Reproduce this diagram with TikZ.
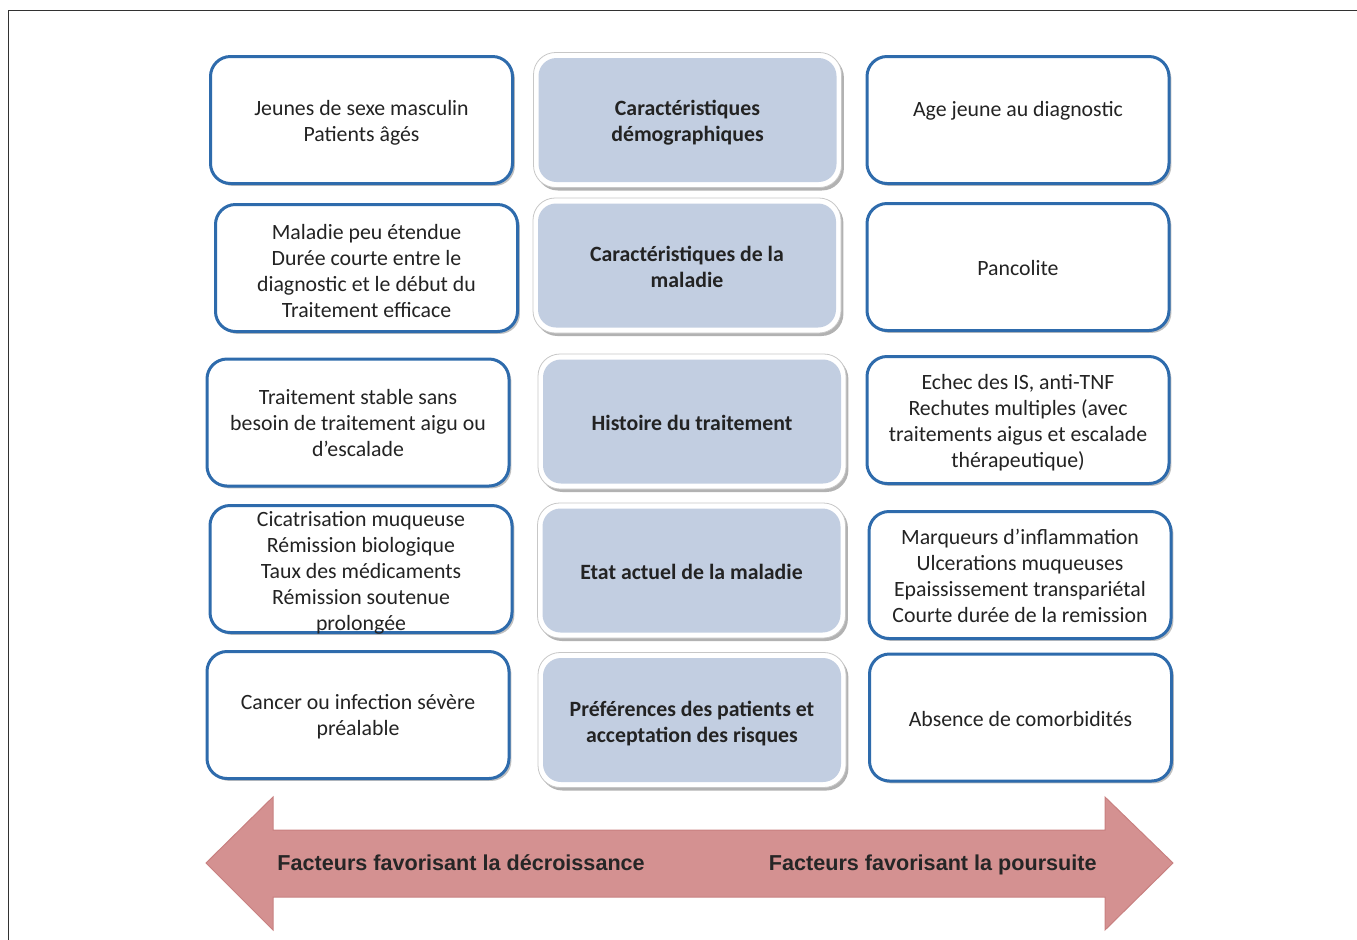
\documentclass[tikz,border=0pt]{standalone}
\usepackage{fontspec}
\setmainfont{Carlito}
\newfontfamily\arialfont{Liberation Sans}
\usetikzlibrary{shadows}
\definecolor{bordblue}{RGB}{46,107,172}
\definecolor{centfill}{RGB}{194,206,225}
\definecolor{arrowfill}{RGB}{212,145,145}
\definecolor{arrowedge}{RGB}{200,128,128}
\definecolor{txtcol}{RGB}{35,35,35}
\definecolor{framecol}{RGB}{50,50,50}
\tikzset{
  sidebox/.style={draw=bordblue, line width=1.5pt, rounded corners=10pt, fill=white,
    minimum width=151pt, minimum height=63.5pt,
    drop shadow={shadow xshift=1.2pt, shadow yshift=-1.2pt, opacity=0.25, fill=black}},
  centbox/.style={draw=black!22, line width=0.4pt, fill=white, rounded corners=11pt,
    minimum width=154pt, minimum height=67.5pt,
    drop shadow={shadow xshift=1.2pt, shadow yshift=-1.5pt, opacity=0.3, fill=black}},
  centinner/.style={fill=centfill, rounded corners=9pt, minimum width=149pt,
    minimum height=62pt},
  txt/.style={align=center, font=\fontsize{10.9}{13}\selectfont, text=txtcol,
    inner sep=0pt, yshift=-1.5pt},
  ctxt/.style={txt, font=\bfseries\fontsize{10.9}{13}\selectfont},
  arrowtxt/.style={font=\arialfont\bfseries\fontsize{10.8}{12}\selectfont, text=black!85, inner sep=0pt}
}
\begin{document}
\begin{tikzpicture}[x=0.5pt,y=-0.5pt]
\useasboundingbox (0,0) rectangle (1357,939);
\draw[framecol, line width=0.8pt] (8.5,945) -- (8.5,10.5) -- (1365,10.5);

% left column
\node[sidebox] (l1) at (361.5,120) {};
\node[txt] (l1t) at (l1) {Jeunes de sexe masculin\\Patients âgés};
\node[sidebox] (l2) at (366.5,268) {};
\node[txt] (l2t) at (366.5,268) {Maladie peu étendue\\Durée courte entre le\\diagnostic et le début du\\Traitement efficace};
\node[sidebox] (l3) at (358,422.5) {};
\node[txt] (l3t) at (358,420.5) {Traitement stable sans\\besoin de traitement aigu ou\\d’escalade};
\node[sidebox] (l4) at (361,569) {};
\node[txt] (l4t) at (361,570) {Cicatrisation muqueuse\\Rémission biologique\\Taux des médicaments\\Rémission soutenue\\prolongée};
\node[sidebox] (l5) at (358,715) {};
\node[txt] (l5t) at (358,714) {Cancer ou infection sévère\\préalable};

% center column
\node[centbox] (c1) at (687.5,120) {};
\node[centinner] (c1i) at (c1) {};
\node[ctxt] (c1t) at (c1) {Caractéristiques\\démographiques};
\node[centbox] (c2) at (687,265.5) {};
\node[centinner] (c2i) at (c2) {};
\node[ctxt] (c2t) at (687,264) {Caractéristiques de la\\maladie};
\node[centbox] (c3) at (692,421.5) {};
\node[centinner] (c3i) at (c3) {};
\node[ctxt] (c3t) at (692,420) {Histoire du traitement};
\node[centbox] (c4) at (691.5,570.5) {};
\node[centinner] (c4i) at (c4) {};
\node[ctxt] (c4t) at (691.5,569) {Etat actuel de la maladie};
\node[centbox] (c5) at (692,720) {};
\node[centinner] (c5i) at (c5) {};
\node[ctxt] (c5t) at (692,721) {Préférences des patients et\\acceptation des risques};

% right column
\node[sidebox] (r1) at (1018,120) {};
\node[txt] (r1t) at (1018,108) {Age jeune au diagnostic};
\node[sidebox] (r2) at (1018,267) {};
\node[txt] (r2t) at (1018,265) {Pancolite};
\node[sidebox] (r3) at (1018,420) {};
\node[txt] (r3t) at (1018,420) {Echec des IS, anti-TNF\\Rechutes multiples (avec\\traitements aigus et escalade\\thérapeutique)};
\node[sidebox] (r4) at (1020,575) {};
\node[txt] (r4t) at (1020,573) {Marqueurs d’inflammation\\Ulcerations muqueuses\\Epaississement transpariétal\\Courte durée de la  remission};
\node[sidebox] (r5) at (1020.5,717.5) {};
\node[txt] (r5t) at (1020.5,716) {Absence de comorbidités};

% double arrow
\path[fill=arrowfill, draw=arrowedge, line width=0.5pt]
  (206,863) -- (273,797) -- (273,830) -- (1105,830) -- (1105,797) -- (1173,863)
  -- (1105,930) -- (1105,897) -- (273,897) -- (273,930) -- cycle;
\node[arrowtxt, anchor=base west] (al) at (277,870.5) {Facteurs favorisant la décroissance};
\node[arrowtxt, anchor=base east] (ar) at (1097,870.5) {Facteurs favorisant la poursuite};
\end{tikzpicture}
\end{document}
